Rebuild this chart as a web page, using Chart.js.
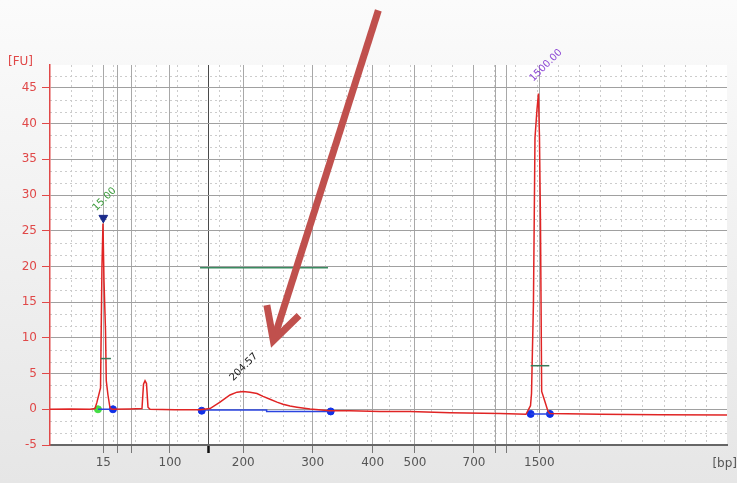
<!DOCTYPE html>
<html>
<head>
<meta charset="utf-8">
<script src="https://cdn.jsdelivr.net/npm/chart.js@4.4.1/dist/chart.umd.min.js"></script>
<style>
  html, body { margin: 0; padding: 0; background: #eeeeee; }
  #wrap { width: 737px; height: 483px; }
</style>
</head>
<body>
<div id="wrap"><canvas id="egram" width="737" height="483"></canvas></div>
<script>
// ladder sizes (bp) and their migration times (s)
const ladderBp   = [15, 25, 50, 100, 150, 200, 300, 400, 500, 700, 850, 1000, 1500];
const ladderTime = [46.30, 48.00, 49.65, 54.18, 58.71, 62.84, 71.04, 78.13, 83.13, 90.10, 92.70, 93.89, 97.82];
const labelledBp = [15, 100, 200, 300, 400, 500, 700, 1500];
const yTicks = [-5, 0, 5, 10, 15, 20, 25, 30, 35, 40, 45];

// sample trace (time s, fluorescence FU)
const traceTime = [40.00, 42.36, 44.73, 45.32, 45.55, 45.97, 46.14, 46.26, 46.38, 46.56, 46.65, 46.85, 47.09, 47.33,
  49.45, 50.87, 51.05, 51.23, 51.40, 51.58, 51.82, 54.77, 57.73, 58.91, 60.09, 61.27, 62.10, 62.81, 63.63, 64.46,
  65.17, 66.00, 66.82, 67.53, 68.36, 69.19, 70.72, 73.09, 75.45, 79.00, 82.54, 87.27, 93.18, 96.25, 96.78, 96.90,
  97.13, 97.31, 97.55, 97.72, 97.84, 97.96, 98.10, 98.37, 98.85, 99.08, 104.99, 112.08, 120.00];
const traceFU = [0, 0.05, 0, 0.1, 1.0, 3.0, 20, 26, 18, 11, 4, 2, 0.2, 0,
  0.05, 0.1, 3.5, 4.0, 3.6, 0.3, 0, -0.05, -0.05, 0.1, 1.0, 2.0, 2.4, 2.5, 2.4, 2.2,
  1.8, 1.4, 1.0, 0.7, 0.45, 0.3, 0.05, -0.2, -0.2, -0.3, -0.3, -0.5, -0.6, -0.7, 0.5, 2.2,
  15, 38, 42, 44.2, 38, 26, 2.5, 1.5, -0.3, -0.6, -0.7, -0.75, -0.8];

// integration baselines and peak borders
const baseTime = [45.67, 47.44, null, 57.93, 65.60, 65.60, 73.17, null, 96.80, 99.08];
const baseFU   = [0, 0, null, -0.1, -0.1, -0.3, -0.3, null, -0.65, -0.65];
const borderTime = [47.44, 57.93, 73.17, 96.80, 99.08];
const borderFU   = [0, -0.2, -0.3, -0.65, -0.65];
const startTime = [45.67];
const startFU   = [0];

// region line and marker width bars
const regionTime = [57.73, 72.85];
const regionFU   = [19.8, 19.8];
const widthBars = [[46.00, 47.20, 7.1], [96.80, 99.00, 6.1]];

// called peaks
const peakTime = [46.30];
const peakFU   = [26.8];
const peakLabels = [
  { text: '15.00',   t: 45.67, fu: 27.5, color: '#3c9c3c' },
  { text: '204.57',  t: 61.86, fu: 3.7,  color: '#222222' },
  { text: '1500.00', t: 97.31, fu: 45.6, color: '#8a44d4' }
];

// annotation arrow (data units)
const arrowTail = [78.80, 55.84];
const arrowTip  = [66.39, 9.62];

const pts = (xs, ys) => xs.map((x, i) => x === null ? { x: null, y: null } : { x: x, y: ys[i] });

const backdrop = {
  id: 'backdrop',
  beforeDraw(chart) {
    const { ctx, chartArea: a, scales: { x, y } } = chart;
    ctx.save();
    const g = ctx.createLinearGradient(0, 0, 0, chart.height);
    g.addColorStop(0, '#fbfbfb');
    g.addColorStop(1, '#e6e6e6');
    ctx.fillStyle = g;
    ctx.fillRect(0, 0, chart.width, chart.height);
    ctx.fillStyle = '#ffffff';
    ctx.fillRect(a.left, a.top, a.right - a.left, a.bottom - a.top);

    // minor dashed grid
    ctx.strokeStyle = '#cccccc';
    ctx.lineWidth = 1;
    ctx.setLineDash([2, 3]);
    for (let v = -5; v <= y.max; v += 5 / 3) {
      if (Math.abs(v / 5 - Math.round(v / 5)) < 0.01) continue;
      const py = Math.round(y.getPixelForValue(v)) + 0.5;
      ctx.beginPath(); ctx.moveTo(a.left, py); ctx.lineTo(a.right, py); ctx.stroke();
    }
    for (let t = 42.5; t < x.max; t += 2.5) {
      const px = Math.round(x.getPixelForValue(t)) + 0.5;
      ctx.beginPath(); ctx.moveTo(px, a.top); ctx.lineTo(px, a.bottom); ctx.stroke();
    }
    ctx.restore();
  }
};

const overlay = {
  id: 'overlay',
  afterDatasetsDraw(chart) {
    const { ctx, scales: { x, y } } = chart;
    ctx.save();
    // marker width bars
    ctx.strokeStyle = '#3a7a58';
    ctx.lineWidth = 1.5;
    widthBars.forEach(b => {
      const py = y.getPixelForValue(b[2]);
      ctx.beginPath();
      ctx.moveTo(x.getPixelForValue(b[0]), py);
      ctx.lineTo(x.getPixelForValue(b[1]), py);
      ctx.stroke();
    });
    // rotated peak labels
    ctx.font = '10px "DejaVu Sans", sans-serif';
    ctx.textAlign = 'left';
    ctx.textBaseline = 'bottom';
    peakLabels.forEach(p => {
      ctx.save();
      ctx.translate(x.getPixelForValue(p.t), y.getPixelForValue(p.fu));
      ctx.rotate(-Math.PI / 4);
      ctx.fillStyle = p.color;
      ctx.fillText(p.text, 0, 0);
      ctx.restore();
    });
    ctx.restore();
  },
  afterDraw(chart) {
    const { ctx, chartArea: a, scales: { x, y } } = chart;
    ctx.save();
    ctx.font = '12px "DejaVu Sans", sans-serif';
    ctx.fillStyle = '#e04848';
    ctx.textAlign = 'left';
    ctx.textBaseline = 'middle';
    ctx.fillText('[FU]', 8, 62);
    ctx.fillStyle = '#555555';
    ctx.textAlign = 'right';
    ctx.fillText('[bp]', 737, 464);

    // big arrow
    const x0 = x.getPixelForValue(arrowTail[0]), y0 = y.getPixelForValue(arrowTail[1]);
    const x1 = x.getPixelForValue(arrowTip[0]),  y1 = y.getPixelForValue(arrowTip[1]);
    const ang = Math.atan2(y0 - y1, x0 - x1);
    const wing = 36, spread = 28 * Math.PI / 180;
    ctx.strokeStyle = '#c0504d';
    ctx.lineWidth = 7;
    ctx.lineCap = 'butt';
    ctx.lineJoin = 'miter';
    ctx.beginPath();
    ctx.moveTo(x0, y0);
    ctx.lineTo(x1, y1);
    ctx.stroke();
    ctx.beginPath();
    ctx.moveTo(x1 + wing * Math.cos(ang + spread), y1 + wing * Math.sin(ang + spread));
    ctx.lineTo(x1, y1);
    ctx.lineTo(x1 + wing * Math.cos(ang - spread), y1 + wing * Math.sin(ang - spread));
    ctx.stroke();
    ctx.restore();
  }
};

new Chart(document.getElementById('egram'), {
  type: 'scatter',
  data: {
    datasets: [
      { data: pts(traceTime, traceFU), showLine: true, borderColor: '#e02424', borderWidth: 1.5,
        pointRadius: 0, tension: 0 },
      { data: pts(baseTime, baseFU), showLine: true, spanGaps: false, borderColor: '#2a44e0', borderWidth: 1.5,
        pointRadius: 0 },
      { data: pts(regionTime, regionFU), showLine: true, borderColor: '#3a8a60', borderWidth: 1.5,
        pointRadius: 0 },
      { data: pts(borderTime, borderFU), pointRadius: 3.5, pointBackgroundColor: '#1030e8',
        pointBorderColor: '#1030e8' },
      { data: pts(startTime, startFU), pointRadius: 3.5, pointBackgroundColor: '#44dd44',
        pointBorderColor: '#44dd44' },
      { data: pts(peakTime, peakFU), pointStyle: 'triangle', rotation: 180, pointRadius: 5,
        pointBackgroundColor: '#1a2a8a', pointBorderColor: '#1a2a8a' }
    ]
  },
  options: {
    responsive: false,
    animation: false,
    layout: { padding: { top: 65, right: 10, bottom: 0, left: 0 } },
    plugins: { legend: { display: false }, tooltip: { enabled: false } },
    scales: {
      x: {
        type: 'linear', min: 40, max: 120,
        afterBuildTicks: s => { s.ticks = ladderTime.map(v => ({ value: v })); },
        afterFit: s => { s.height = 38; },
        ticks: {
          autoSkip: false, maxRotation: 0, padding: 3, color: '#555555',
          font: { family: '"DejaVu Sans", sans-serif', size: 12 },
          callback: (v, i) => labelledBp.includes(ladderBp[i]) ? String(ladderBp[i]) : ''
        },
        grid: {
          color: c => ladderBp[c.index] === 150 ? '#4a4a4a' : '#a8a8a8',
          lineWidth: 1,
          tickLength: 8,
          tickColor: c => ladderBp[c.index] === 150 ? '#111111' : '#777777',
          tickWidth: c => ladderBp[c.index] === 150 ? 2.5 : 1
        },
        border: { color: '#666666', width: 2 }
      },
      y: {
        min: -5, max: 48.2,
        afterBuildTicks: s => { s.ticks = yTicks.map(v => ({ value: v })); },
        afterFit: s => { s.width = 50; },
        ticks: { color: '#e04848', padding: 5, font: { family: '"DejaVu Sans", sans-serif', size: 12 } },
        grid: { color: '#a0a0a0', lineWidth: 1, tickLength: 8, tickColor: '#e04848' },
        border: { color: '#e04848', width: 1.5 }
      }
    }
  },
  plugins: [backdrop, overlay]
});
</script>
</body>
</html>
